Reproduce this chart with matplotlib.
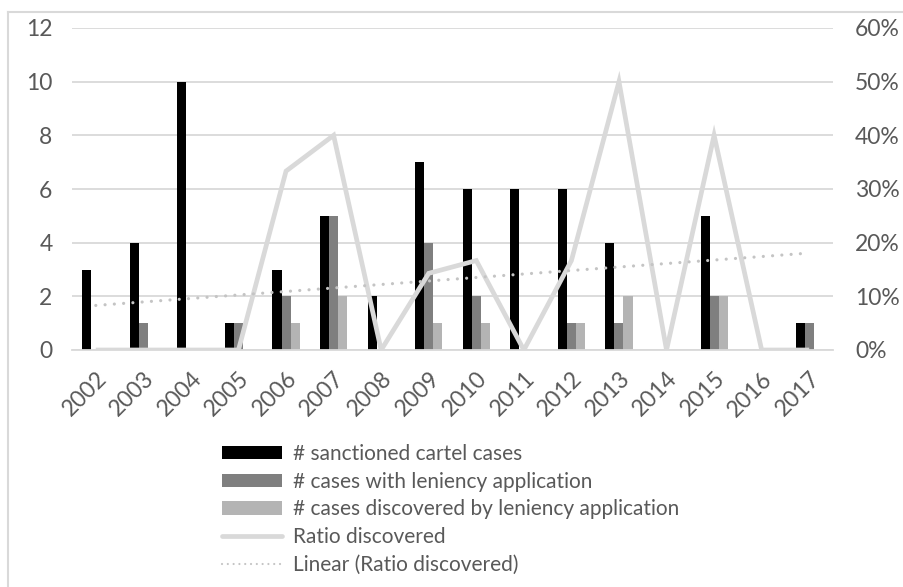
import numpy as np
import matplotlib.pyplot as plt
from matplotlib.patches import Patch
from matplotlib.lines import Line2D
from matplotlib.ticker import FuncFormatter, MultipleLocator

plt.rcParams['font.family'] = ['Lato', 'DejaVu Sans']

years = ['2002', '2003', '2004', '2005', '2006', '2007', '2008', '2009',
         '2010', '2011', '2012', '2013', '2014', '2015', '2016', '2017']
sanctioned = [3, 4, 10, 1, 3, 5, 2, 7, 6, 6, 6, 4, 0, 5, 0, 1]
with_leniency = [0, 1, 0, 1, 2, 5, 0, 4, 2, 0, 1, 1, 0, 2, 0, 1]
discovered = [0, 0, 0, 0, 1, 2, 0, 1, 1, 0, 1, 2, 0, 2, 0, 0]
ratio_discovered = [0.0, 0.0, 0.0, 0.0, 1 / 3, 0.40, 0.0, 1 / 7,
                    1 / 6, 0.0, 1 / 6, 0.50, 0.0, 0.40, 0.0, 0.0]

W, H = 904, 587
fig = plt.figure(figsize=(W / 100, H / 100), dpi=100)

# chart-area frame (left and top edges)
fig.add_artist(Line2D([8 / W, 8 / W], [0, 1 - 12 / H], transform=fig.transFigure,
                      color='#d9d9d9', lw=1.5))
fig.add_artist(Line2D([8 / W, 1], [1 - 12 / H, 1 - 12 / H], transform=fig.transFigure,
                      color='#d9d9d9', lw=1.5))

left, right, top, bottom = 72, 833, 28, 350
ax = fig.add_axes([left / W, 1 - bottom / H, (right - left) / W, (bottom - top) / H])

x = np.arange(len(years))
bw = 0.19
c_black, c_dark, c_light, c_line = '#000000', '#7f7f7f', '#b4b4b4', '#d9d9d9'
ax.bar(x - bw, sanctioned, bw, color=c_black, zorder=2)
ax.bar(x, with_leniency, bw, color=c_dark, zorder=2)
ax.bar(x + bw, discovered, bw, color=c_light, zorder=2)

ax.set_xlim(-0.5, len(years) - 0.5)
ax.set_ylim(0, 12)
ax.yaxis.set_major_locator(MultipleLocator(2))
ax.grid(axis='y', color='#d9d9d9', lw=1.3, zorder=0)
ax.set_axisbelow(True)
for s in ['top', 'right', 'left']:
    ax.spines[s].set_visible(False)
ax.spines['bottom'].set_color('#d9d9d9')
ax.spines['bottom'].set_linewidth(1.3)
ax.set_xticks(x)
ax.set_xticklabels(years, rotation=45, ha='right', rotation_mode='anchor')
ax.tick_params(axis='both', length=0, labelsize=16.5, colors='#595959')
ax.tick_params(axis='x', pad=13)
ax.tick_params(axis='y', pad=14)

ax2 = ax.twinx()
ax2.set_ylim(0, 0.6)
ax2.yaxis.set_major_locator(MultipleLocator(0.1))
ax2.yaxis.set_major_formatter(FuncFormatter(lambda v, p: f'{v * 100:.0f}%'))
ax2.tick_params(axis='y', length=0, labelsize=16.5, colors='#595959', pad=16)
for s in ax2.spines.values():
    s.set_visible(False)

ax2.plot(x, ratio_discovered, color=c_line, lw=3.4, solid_joinstyle='miter',
         solid_capstyle='butt')

# linear trend of the ratio
coef = np.polyfit(x, ratio_discovered, 1)
trend = np.polyval(coef, x)
ax2.plot(x, trend, color='#c4c4c4', lw=2.3, linestyle=(0, (0.01, 2.9)),
         dash_capstyle='round')

handles = [
    Patch(facecolor=c_black, label='# sanctioned cartel cases'),
    Patch(facecolor=c_dark, label='# cases with leniency application'),
    Patch(facecolor=c_light, label='# cases discovered by leniency application'),
    Line2D([], [], color=c_line, lw=3.4, solid_capstyle='round', label='Ratio discovered'),
    Line2D([], [], color='#c4c4c4', lw=1.6, linestyle=(0, (0.01, 2.6)),
           dash_capstyle='round', label='Linear (Ratio discovered)'),
]
leg = fig.legend(handles=handles, loc='upper left',
                 bbox_to_anchor=(222 / W, 1 - 444 / H), frameon=False,
                 fontsize=15, handlelength=2.9, handleheight=0.62,
                 handletextpad=0.53, labelspacing=0.37, borderpad=0,
                 borderaxespad=0)
for t in leg.get_texts():
    t.set_color('#595959')

fig.savefig('out.png', dpi=100)
